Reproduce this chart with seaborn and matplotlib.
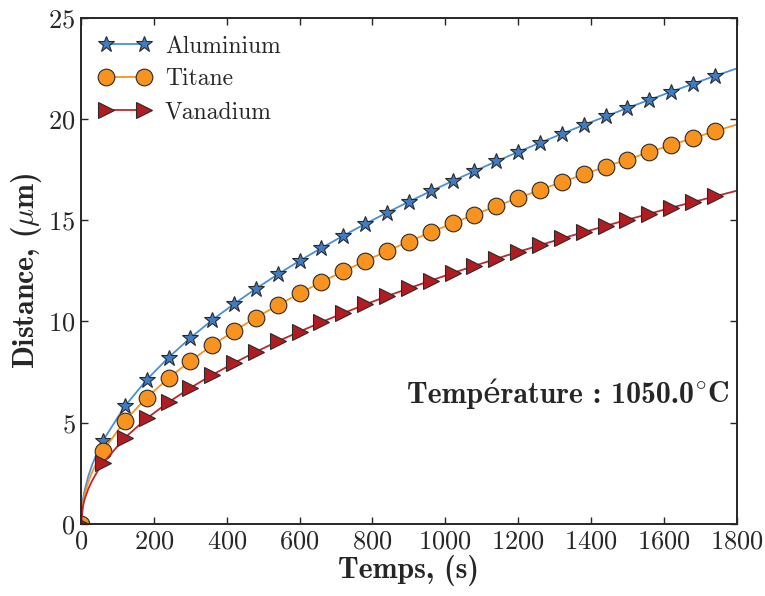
import numpy as np
import pandas as pd
import matplotlib
matplotlib.use("Agg")
import matplotlib.pyplot as plt
import seaborn as sns

# time grid (s): a few early points for the steep start, then every 60 s
temps = [0, 5, 10, 20, 30, 45] + list(range(60, 1741, 60)) + [1800]

aluminium = [0, 1.19, 1.68, 2.37, 2.9, 3.56,
             4.11, 5.81, 7.12, 8.22, 9.19, 10.07, 10.87, 11.62, 12.33, 13.0,
             13.63, 14.24, 14.82, 15.38, 15.92, 16.44, 16.94, 17.43, 17.91, 18.38,
             18.83, 19.27, 19.71, 20.13, 20.55, 20.95, 21.35, 21.74, 22.13,
             22.5]
titane = [0, 1.04, 1.47, 2.08, 2.55, 3.12,
          3.6, 5.09, 6.24, 7.2, 8.05, 8.82, 9.53, 10.19, 10.8, 11.39,
          11.95, 12.48, 12.99, 13.48, 13.95, 14.41, 14.85, 15.28, 15.7, 16.1,
          16.5, 16.89, 17.27, 17.65, 18.0, 18.37, 18.72, 19.06, 19.4,
          19.73]
vanadium = [0, 0.87, 1.23, 1.74, 2.12, 2.6,
            3.0, 4.25, 5.21, 6.01, 6.72, 7.36, 7.95, 8.5, 9.02, 9.5,
            9.97, 10.41, 10.84, 11.25, 11.64, 12.02, 12.39, 12.75, 13.1, 13.44,
            13.77, 14.1, 14.41, 14.72, 15.03, 15.32, 15.62, 15.9, 16.18,
            16.46]

metals = ["Aluminium", "Titane", "Vanadium"]
line_colors = {"Aluminium": "#4a8fd8", "Titane": "#f7931e", "Vanadium": "#c0272d"}
face_colors = {"Aluminium": "#3f7cc2", "Titane": "#f7931e", "Vanadium": "#b01c22"}
marker_map = {"Aluminium": "*", "Titane": "o", "Vanadium": ">"}
marker_size = {"Aluminium": 12, "Titane": 12, "Vanadium": 11}

df = pd.DataFrame({
    "temps": temps * 3,
    "distance": aluminium + titane + vanadium,
    "metal": sum([[m] * len(temps) for m in metals], []),
})

sns.set_style("ticks")
plt.rcParams["font.family"] = ["cmr10", "DejaVu Serif"]
plt.rcParams["mathtext.fontset"] = "cm"
plt.rcParams["axes.formatter.use_mathtext"] = True

fig = plt.figure(figsize=(7.65, 5.96), dpi=100)
ax = fig.add_axes([0.106, 0.121, 0.857, 0.849])

mark_idx = [0] + list(range(6, 35))
sns.lineplot(data=df, x="temps", y="distance", hue="metal", style="metal",
             hue_order=metals, style_order=metals, palette=line_colors,
             markers=marker_map, dashes=False, legend=False, ax=ax,
             linewidth=1.3, markevery=mark_idx,
             markeredgecolor="#2a2a2a", markeredgewidth=0.8)

lines = ax.get_lines()[:3]
for ln, m in zip(lines, metals):
    ln.set_markerfacecolor(face_colors[m])
    ln.set_markersize(marker_size[m])

ax.set_xlim(0, 1800)
ax.set_ylim(0, 25)
ax.set_xticks(range(0, 1801, 200))
ax.set_yticks(range(0, 26, 5))
ax.tick_params(direction="in", top=True, right=True, labelsize=19,
               length=5, width=1.0, color="#262626", pad=4)
for sp in ax.spines.values():
    sp.set_linewidth(1.4)
    sp.set_color("#262626")

bold = ["cmb10", "DejaVu Serif"]
ax.set_xlabel("Temps, (s)", fontsize=21.5, family=bold, labelpad=1)
ax.set_ylabel(r"Distance, ($\mu$m)", fontsize=21.5, family=bold, labelpad=3)

# temperature note: the degree sign comes from mathtext, the rest from cmb10
deg = ax.text(1780, 5.95, r"$^{\circ}\mathbf{C}$", fontsize=21.5,
              ha="right", va="baseline")
fig.canvas.draw()
x_left = ax.transData.inverted().transform(
    deg.get_window_extent(fig.canvas.get_renderer()).p0)[0]
ax.text(x_left, 5.95, "Température : 1050.0", fontsize=21.5, family=bold,
        ha="right", va="baseline")

ax.legend(lines, metals, loc="upper left", frameon=False, numpoints=2,
          fontsize=17, handlelength=2.2, borderaxespad=0.35, labelspacing=0.45,
          handletextpad=0.6)

fig.savefig("out.png", dpi=100)
